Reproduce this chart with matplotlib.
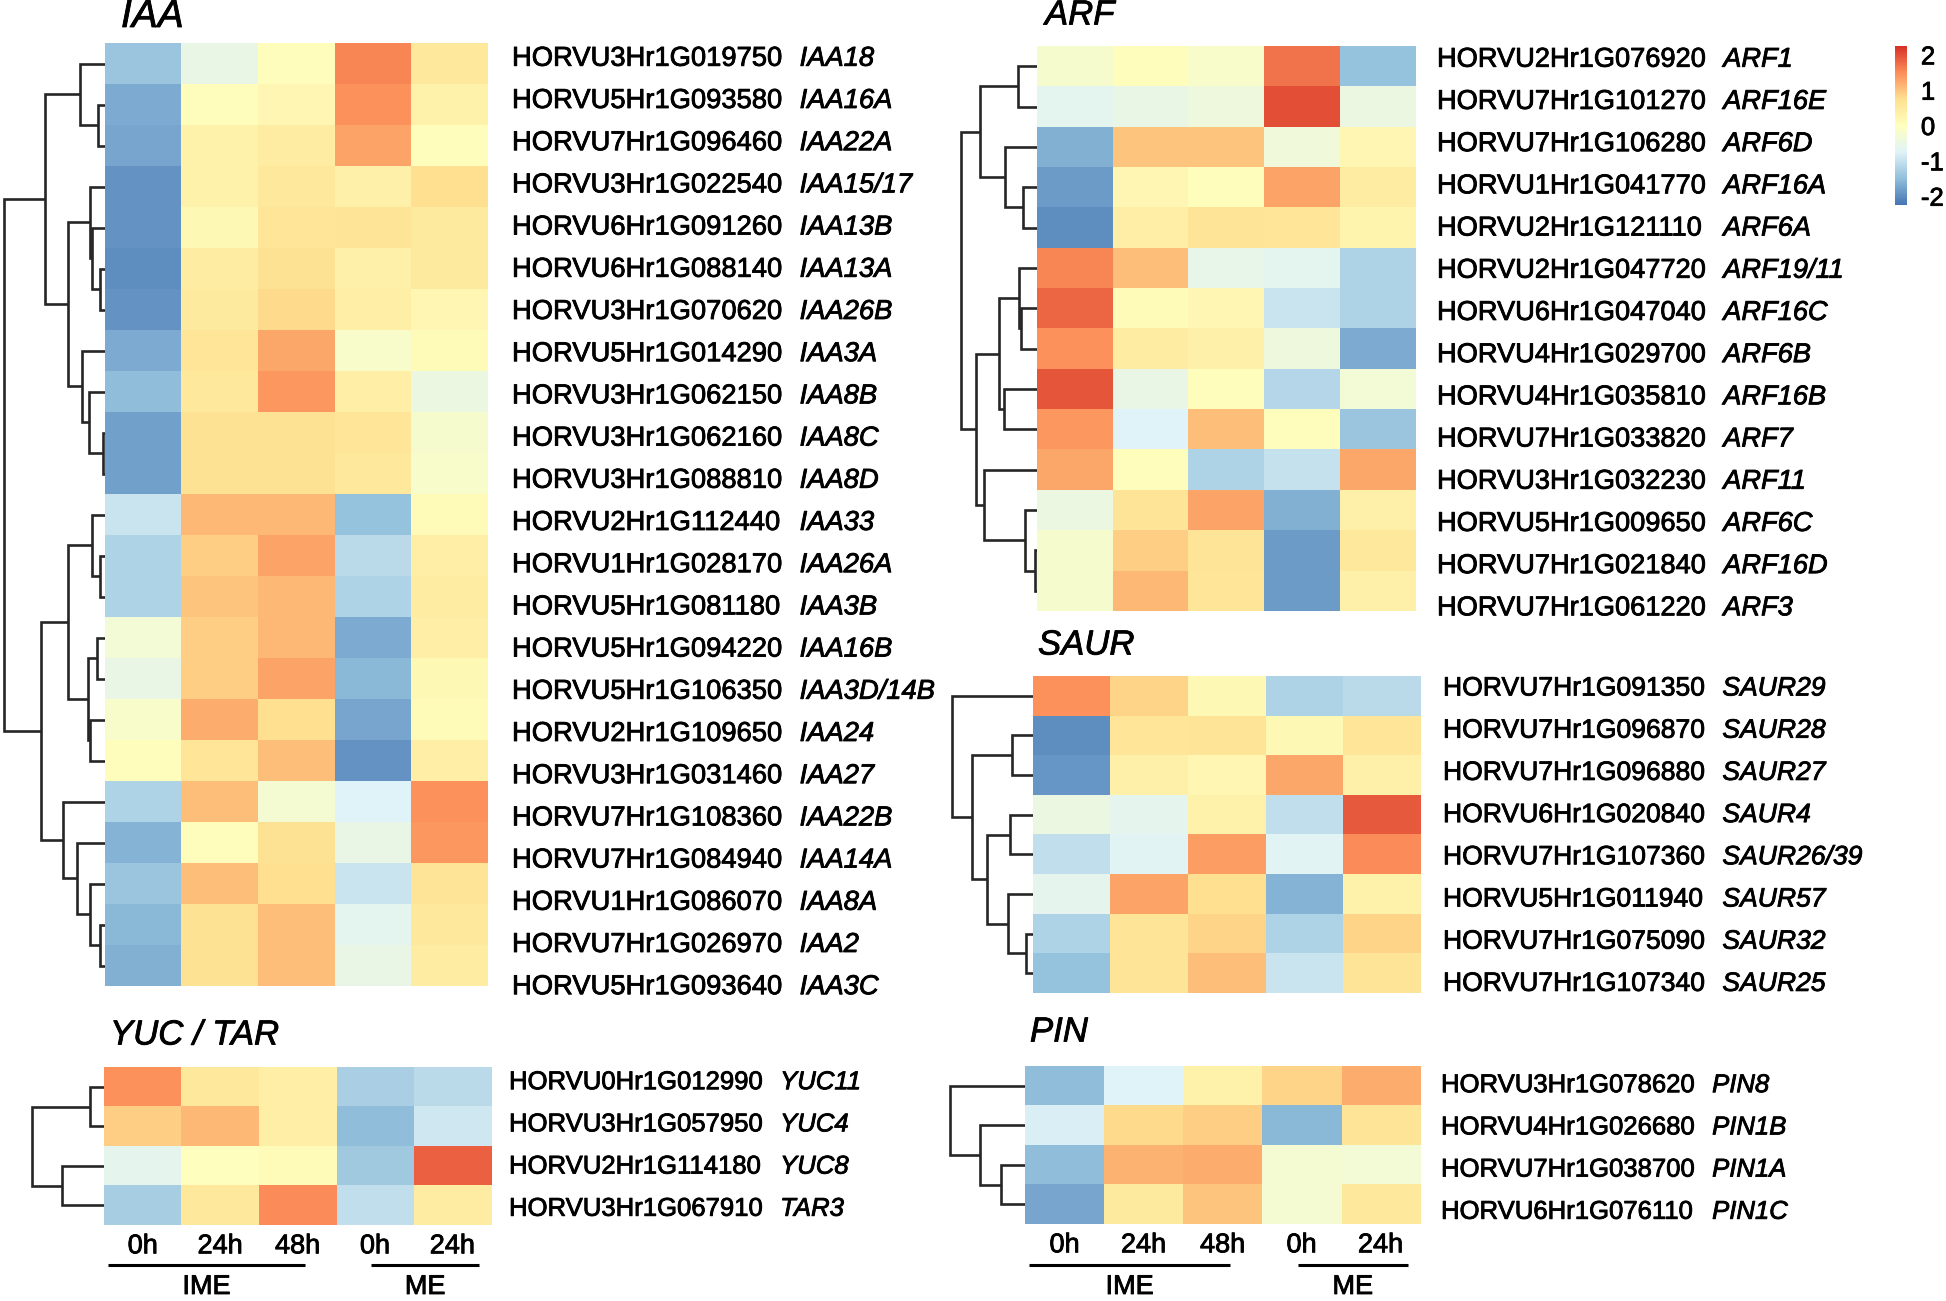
import numpy as np
import matplotlib
matplotlib.use('Agg')
import matplotlib.pyplot as plt
import matplotlib.patheffects as pe
from matplotlib.colors import LinearSegmentedColormap, Normalize
from matplotlib.cm import ScalarMappable

plt.rcParams['font.family'] = ['Liberation Sans', 'DejaVu Sans']
plt.rcParams['axes.unicode_minus'] = False

# ---------------- data ----------------
times = ['0h', '24h', '48h', '0h', '24h']
stages = ['IME', 'ME']

iaa_ids = ['HORVU3Hr1G019750', 'HORVU5Hr1G093580', 'HORVU7Hr1G096460', 'HORVU3Hr1G022540',
           'HORVU6Hr1G091260', 'HORVU6Hr1G088140', 'HORVU3Hr1G070620', 'HORVU5Hr1G014290',
           'HORVU3Hr1G062150', 'HORVU3Hr1G062160', 'HORVU3Hr1G088810', 'HORVU2Hr1G112440',
           'HORVU1Hr1G028170', 'HORVU5Hr1G081180', 'HORVU5Hr1G094220', 'HORVU5Hr1G106350',
           'HORVU2Hr1G109650', 'HORVU3Hr1G031460', 'HORVU7Hr1G108360', 'HORVU7Hr1G084940',
           'HORVU1Hr1G086070', 'HORVU7Hr1G026970', 'HORVU5Hr1G093640']
iaa_names = ['IAA18', 'IAA16A', 'IAA22A', 'IAA15/17', 'IAA13B', 'IAA13A', 'IAA26B', 'IAA3A',
             'IAA8B', 'IAA8C', 'IAA8D', 'IAA33', 'IAA26A', 'IAA3B', 'IAA16B', 'IAA3D/14B',
             'IAA24', 'IAA27', 'IAA22B', 'IAA14A', 'IAA8A', 'IAA2', 'IAA3C']
iaa_vals = [[-1.4, -0.5, 0.05, 1.55, 0.55],
            [-1.7, 0.05, 0.2, 1.45, 0.3],
            [-1.75, 0.3, 0.45, 1.3, 0.05],
            [-1.95, 0.3, 0.55, 0.35, 0.75],
            [-1.95, 0.15, 0.6, 0.65, 0.5],
            [-2.0, 0.45, 0.7, 0.35, 0.5],
            [-1.95, 0.5, 0.8, 0.4, 0.2],
            [-1.7, 0.6, 1.25, -0.15, 0.1],
            [-1.5, 0.55, 1.4, 0.4, -0.45],
            [-1.8, 0.7, 0.7, 0.6, -0.2],
            [-1.8, 0.7, 0.7, 0.55, -0.15],
            [-0.95, 1.1, 1.1, -1.45, 0.1],
            [-1.2, 0.9, 1.3, -1.1, 0.4],
            [-1.2, 1.0, 1.1, -1.2, 0.45],
            [-0.3, 0.9, 1.1, -1.7, 0.4],
            [-0.5, 0.9, 1.3, -1.55, 0.15],
            [-0.15, 1.2, 0.75, -1.75, 0.1],
            [0.05, 0.6, 1.05, -1.95, 0.4],
            [-1.2, 1.05, -0.25, -0.75, 1.45],
            [-1.6, 0.05, 0.7, -0.5, 1.4],
            [-1.4, 1.05, 0.75, -0.95, 0.65],
            [-1.55, 0.7, 1.05, -0.65, 0.55],
            [-1.65, 0.7, 1.05, -0.5, 0.45]]
# (child a, child b, merge height)
iaa_tree = [(1, 2, 7.3), (0, 23, 25), (5, 6, 5), (4, 25, 13.3), (3, 26, 15),
            (9, 10, 1.7), (8, 28, 15.7), (7, 29, 22.7), (27, 30, 37.3), (24, 31, 60),
            (12, 13, 5), (11, 33, 13.3), (14, 15, 8.3), (16, 17, 15), (35, 36, 17.3),
            (34, 37, 37.3), (21, 22, 5), (20, 39, 15), (19, 40, 28.3), (18, 41, 41.7),
            (38, 42, 64.3), (32, 43, 101)]

arf_ids = ['HORVU2Hr1G076920', 'HORVU7Hr1G101270', 'HORVU7Hr1G106280', 'HORVU1Hr1G041770',
           'HORVU2Hr1G121110', 'HORVU2Hr1G047720', 'HORVU6Hr1G047040', 'HORVU4Hr1G029700',
           'HORVU4Hr1G035810', 'HORVU7Hr1G033820', 'HORVU3Hr1G032230', 'HORVU5Hr1G009650',
           'HORVU7Hr1G021840', 'HORVU7Hr1G061220']
arf_names = ['ARF1', 'ARF16E', 'ARF6D', 'ARF16A', 'ARF6A', 'ARF19/11', 'ARF16C', 'ARF6B',
             'ARF16B', 'ARF7', 'ARF11', 'ARF6C', 'ARF16D', 'ARF3']
arf_vals = [[-0.2, 0.05, -0.15, 1.7, -1.45],
            [-0.65, -0.5, -0.4, 2.0, -0.45],
            [-1.65, 1.0, 1.0, -0.35, 0.2],
            [-1.85, 0.2, 0.05, 1.3, 0.45],
            [-2.0, 0.4, 0.65, 0.6, 0.25],
            [1.55, 1.05, -0.55, -0.65, -1.2],
            [1.8, 0.1, 0.2, -0.95, -1.2],
            [1.45, 0.45, 0.35, -0.4, -1.7],
            [1.95, -0.5, 0.05, -1.15, -0.3],
            [1.4, -0.75, 1.05, 0.05, -1.4],
            [1.25, 0.05, -1.2, -1.0, 1.25],
            [-0.45, 0.65, 1.3, -1.65, 0.35],
            [-0.2, 0.9, 0.65, -1.85, 0.55],
            [-0.2, 1.1, 0.6, -1.85, 0.35]]
arf_tree = [(0, 1, 19.3), (3, 4, 14.3), (2, 15, 31.7), (14, 16, 56.7), (6, 7, 15.7),
            (5, 18, 18.3), (8, 9, 33.3), (19, 20, 38.3), (12, 13, 1.7), (11, 22, 11.7),
            (10, 23, 53.3), (21, 24, 61), (17, 25, 76)]

saur_ids = ['HORVU7Hr1G091350', 'HORVU7Hr1G096870', 'HORVU7Hr1G096880', 'HORVU6Hr1G020840',
            'HORVU7Hr1G107360', 'HORVU5Hr1G011940', 'HORVU7Hr1G075090', 'HORVU7Hr1G107340']
saur_names = ['SAUR29', 'SAUR28', 'SAUR27', 'SAUR4', 'SAUR26/39', 'SAUR57', 'SAUR32', 'SAUR25']
saur_vals = [[1.45, 0.85, 0.15, -1.2, -1.1],
             [-2.0, 0.6, 0.65, 0.15, 0.6],
             [-1.9, 0.35, 0.2, 1.25, 0.35],
             [-0.45, -0.6, 0.3, -1.05, 1.9],
             [-1.05, -0.7, 1.35, -0.7, 1.5],
             [-0.6, 1.3, 0.75, -1.6, 0.3],
             [-1.2, 0.65, 0.85, -1.2, 0.85],
             [-1.45, 0.65, 1.05, -0.95, 0.65]]
saur_tree = [(1, 2, 21.3), (3, 4, 23), (6, 7, 7), (5, 10, 24.7), (9, 11, 46.3),
             (8, 12, 61.3), (0, 13, 81)]

yuc_ids = ['HORVU0Hr1G012990', 'HORVU3Hr1G057950', 'HORVU2Hr1G114180', 'HORVU3Hr1G067910']
yuc_names = ['YUC11', 'YUC4', 'YUC8', 'TAR3']
yuc_vals = [[1.45, 0.55, 0.4, -1.25, -1.1],
            [0.9, 1.1, 0.4, -1.5, -0.9],
            [-0.6, 0.0, 0.1, -1.35, 1.85],
            [-1.3, 0.55, 1.5, -1.05, 0.45]]
yuc_tree = [(0, 1, 14), (2, 3, 42), (4, 5, 72)]

pin_ids = ['HORVU3Hr1G078620', 'HORVU4Hr1G026680', 'HORVU7Hr1G038700', 'HORVU6Hr1G076110']
pin_names = ['PIN8', 'PIN1B', 'PIN1A', 'PIN1C']
pin_vals = [[-1.5, -0.75, 0.3, 0.85, 1.2],
            [-0.8, 0.8, 0.9, -1.55, 0.65],
            [-1.5, 1.15, 1.2, -0.25, -0.3],
            [-1.75, 0.5, 1.0, -0.25, 0.55]]
pin_tree = [(2, 3, 24), (1, 4, 45), (0, 5, 75)]

# ---------------- figure ----------------
W, H = 1946, 1301
fig = plt.figure(figsize=(W / 100, H / 100), dpi=100)

def box(x0, y0, x1, y1):
    return [x0 / W, 1 - y1 / H, (x1 - x0) / W, (y1 - y0) / H]

# overlay axes in pixel coordinates for free text
ov = fig.add_axes([0, 0, 1, 1])
ov.set_xlim(0, W)
ov.set_ylim(H, 0)
ov.axis('off')

cmap = LinearSegmentedColormap.from_list(
    'rdylbu7', ['#4575B4', '#91BFDB', '#E0F3F8', '#FFFFBF', '#FEE090', '#FC8D59', '#D73027'])
norm = Normalize(vmin=-2.25, vmax=2.25)
line_col = '#262626'
# slightly heavier text, like the scanned original
heavy = [pe.withStroke(linewidth=0.6, foreground='black')]


def draw_tree(ax, n, tree):
    pos = {i: (float(i), 0.0) for i in range(n)}
    for k, (a, b, h) in enumerate(tree):
        ya, ha = pos[a]
        yb, hb = pos[b]
        ax.plot([ha, h, h, hb], [ya, ya, yb, yb], color=line_col, lw=1.9,
                solid_capstyle='butt', solid_joinstyle='miter')
        pos[n + k] = ((ya + yb) / 2, h)


def panel(title, ids, names, vals, tree, hm, title_xy, title_fs, lab_x, lab_y0, fs, ticks):
    x0, y0, x1, y1 = hm
    n = len(ids)
    ax = fig.add_axes(box(x0, y0, x1, y1))
    ax.imshow(np.array(vals), cmap=cmap, norm=norm, aspect='auto', interpolation='nearest')
    ax.set_ylim(n - 0.5, -0.5)
    for s in ax.spines.values():
        s.set_visible(False)
    ax.set_yticks([])
    if ticks:
        ax.set_xticks(range(len(times)))
        ax.set_xticklabels(times, fontsize=19.5, path_effects=heavy)
        ax.tick_params(axis='x', length=0, pad=6)
    else:
        ax.set_xticks([])

    # dendrogram
    root = tree[-1][2]
    dw = root + 3
    dax = fig.add_axes(box(x0 - dw, y0, x0, y1))
    draw_tree(dax, n, tree)
    dax.set_xlim(dw, 0)
    dax.set_ylim(n - 0.5, -0.5)
    dax.axis('off')

    # title
    ov.text(title_xy[0], title_xy[1], title, fontsize=title_fs, style='italic',
            ha='left', va='center', path_effects=heavy)

    # row labels
    em = fs * 100 / 72
    step = 42.2
    for i, (gid, nm) in enumerate(zip(ids, names)):
        yb = lab_y0 + i * step + 0.716 * em / 2
        ov.text(lab_x, yb, gid, fontsize=fs, ha='left', va='baseline', path_effects=heavy)
        wid = 9.89 * em
        ov.text(lab_x + wid + 17, yb, nm, fontsize=fs, style='italic',
                ha='left', va='baseline', path_effects=heavy)

    if ticks:
        w = x1 - x0
        spans = [(0.01, 0.52), (0.69, 0.97)]
        for (a, b), lab in zip(spans, stages):
            ov.plot([x0 + a * w, x0 + b * w], [1265, 1265], color='black', lw=2.2,
                    solid_capstyle='butt')
            ov.text(x0 + (a + b) / 2 * w, 1287, lab, fontsize=19.5, ha='center',
                    va='center', path_effects=heavy)


panel('IAA', iaa_ids, iaa_names, iaa_vals, iaa_tree, (105, 43, 488, 986),
      (121, 17), 28, 512, 56, 19.7, False)
panel('ARF', arf_ids, arf_names, arf_vals, arf_tree, (1037, 46, 1416, 611),
      (1045, 15), 25, 1437, 57, 19.6, False)
panel('SAUR', saur_ids, saur_names, saur_vals, saur_tree, (1033, 676, 1421, 993),
      (1038, 645), 25, 1443, 686, 19.1, False)
panel('YUC / TAR', yuc_ids, yuc_names, yuc_vals, yuc_tree, (104, 1067, 491, 1225),
      (110, 1035), 25, 509, 1080, 18.5, True)
panel('PIN', pin_ids, pin_names, pin_vals, pin_tree, (1025, 1066, 1420, 1224),
      (1030, 1032), 25, 1441, 1083, 18.5, True)

# colour key
cax = fig.add_axes(box(1895, 46, 1907, 205))
cb = fig.colorbar(ScalarMappable(norm=norm, cmap=cmap), cax=cax, ticks=[-2, -1, 0, 1, 2])
cb.outline.set_visible(False)
cax.tick_params(length=0, labelsize=18.5, pad=10)
for t in cax.get_yticklabels():
    t.set_path_effects(heavy)

fig.savefig('out.png', dpi=100, facecolor='white')
